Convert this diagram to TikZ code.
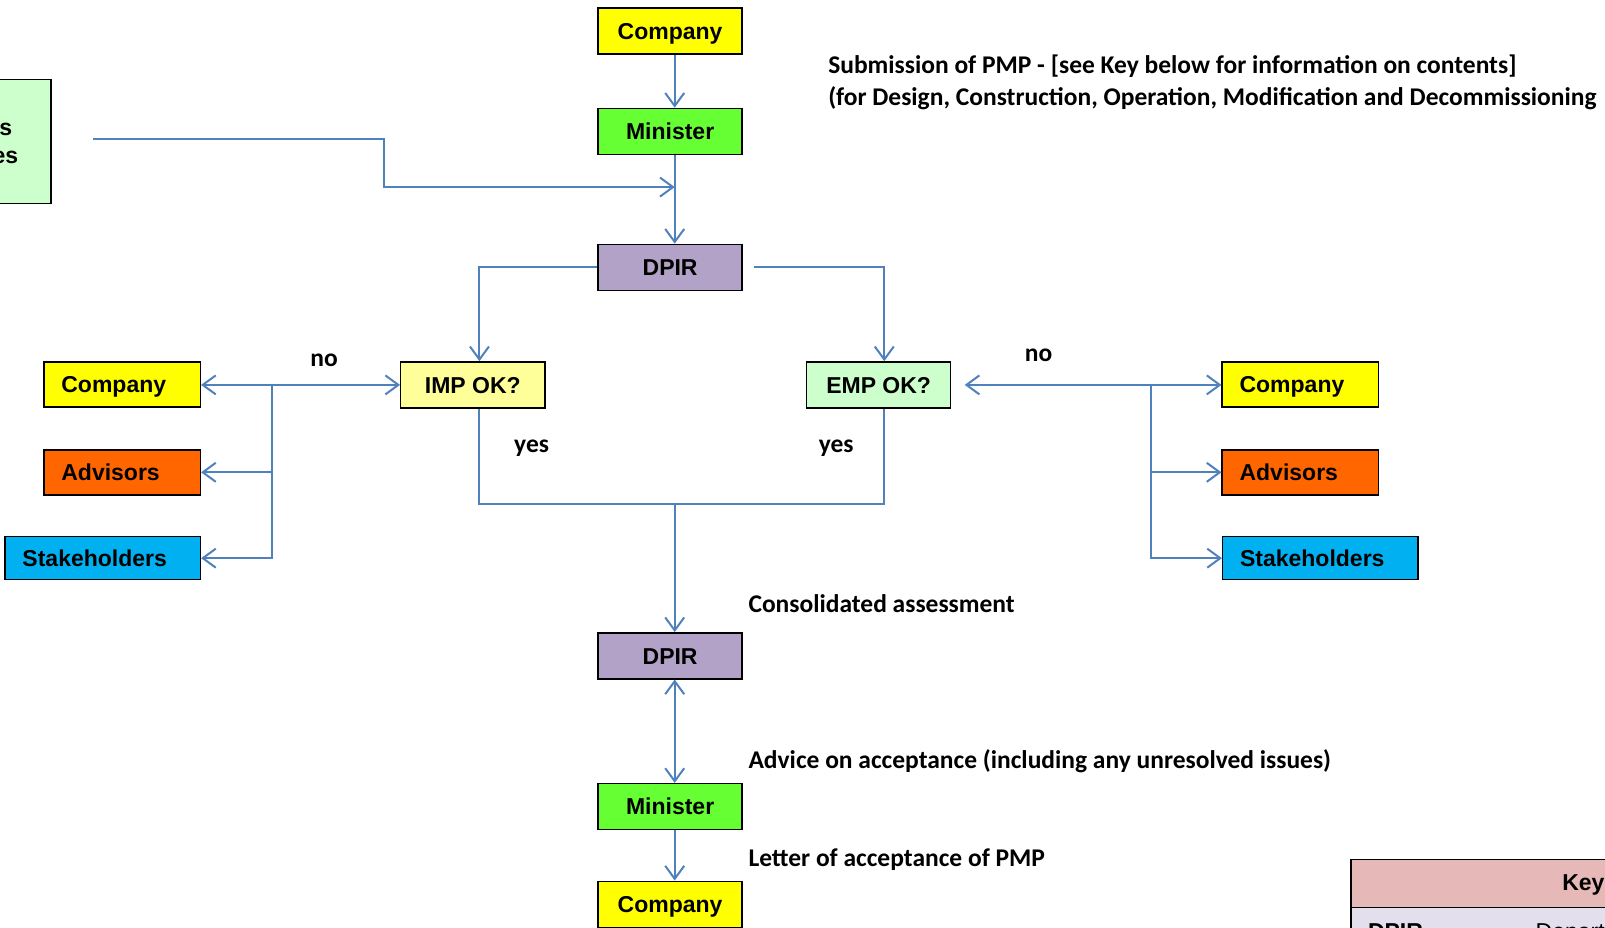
\documentclass[tikz,border=0pt]{standalone}
\usepackage{fontspec}
\setmainfont{Liberation Sans}
\newfontfamily\calibri{Carlito}
\usetikzlibrary{arrows.meta,calc}
\definecolor{lineblue}{RGB}{79,129,189}
\definecolor{cyellow}{RGB}{255,255,0}
\definecolor{cgreen}{RGB}{102,255,51}
\definecolor{cpurple}{RGB}{179,162,199}
\definecolor{clyellow}{RGB}{255,255,153}
\definecolor{clgreen}{RGB}{204,255,204}
\definecolor{corange}{RGB}{255,102,0}
\definecolor{ccyan}{RGB}{0,176,240}
\definecolor{keypink}{RGB}{230,185,184}
\definecolor{keylav}{RGB}{228,223,236}
\tikzset{
  box/.style={draw=black, line width=1.4pt, minimum width=144.1pt, minimum height=46pt, inner sep=0pt,
    text height=16.5pt, text depth=0pt, font=\fontsize{23}{27}\selectfont\bfseries},
  sidebox/.style={draw=black, line width=1.4pt, minimum height=45pt, inner xsep=17.4pt, inner ysep=0pt,
    text height=16.5pt, text depth=0pt,
    text width=121.6pt, align=left, font=\fontsize{23}{27}\selectfont\bfseries},
  widebox/.style={sidebox, text width=160.5pt, minimum height=43pt},
  lbl/.style={font=\calibri\fontsize{25.5}{31}\selectfont\bfseries, inner sep=0pt},
  line/.style={draw=lineblue, line width=2pt},
  conn/.style={line, -{Straight Barb[length=13pt,width=19pt,line width=2pt]}},
  conntwo/.style={line, {Straight Barb[length=13pt,width=19pt,line width=2pt]}-{Straight Barb[length=13pt,width=19pt,line width=2pt]}}
}
\begin{document}
\begin{tikzpicture}[x=1.0223pt,y=-1.0223pt]
\useasboundingbox (0,0) rectangle (1570,906.8);
% spine coordinates
\coordinate (sp) at (660,0);
\coordinate (ix) at (469,0);
\coordinate (ex) at (865,0);

% left partial green box
\node (gbox) [draw=black, line width=1.4pt, fill=clgreen, minimum width=153.3pt, minimum height=123.7pt] at (-25,138.5) {};
\node (gt1) [anchor=east, font=\fontsize{23}{27}\selectfont\bfseries, inner sep=0pt] at (12,127) {s};
\node (gt2) [anchor=east, font=\fontsize{23}{27}\selectfont\bfseries, inner sep=0pt] at (18,154) {es};

% main column
\node (comp1) [box, fill=cyellow] at (655.5,30.5) {Company};
\node (min1) [box, fill=cgreen] at (655.5,128.5) {Minister};
\node (dpir1) [box, fill=cpurple] at (655.5,261.5) {DPIR};
\node (imp) [box, fill=clyellow] at (462.5,376.5) {IMP OK?};
\node (emp) [box, fill=clgreen] at (859.5,376.5) {EMP OK?};
\node (dpir2) [box, fill=cpurple] at (655.5,641.5) {DPIR};
\node (min2) [box, fill=cgreen] at (655.5,789) {Minister};
\node (comp3) [box, fill=cyellow] at (655.5,884.5) {Company};

% side boxes
\node (compL) [sidebox, fill=cyellow] at (119.5,376) {Company};
\node (advL) [sidebox, fill=corange] at (119.5,462) {Advisors};
\node (stakL) [widebox, fill=ccyan] at (100.5,546) {Stakeholders};
\node (compR) [sidebox, fill=cyellow] at (1272,376) {Company};
\node (advR) [sidebox, fill=corange] at (1272,462) {Advisors};
\node (stakR) [widebox, fill=ccyan] at (1291.5,546) {Stakeholders};

% key table
\node (keyhead) [draw=black, line width=1.4pt, fill=keypink, anchor=north west, minimum width=400pt, minimum height=48pt, inner sep=0pt] at (1321,840) {};
\node (keyrow) [draw=black, line width=1.4pt, fill=keylav, anchor=north west, minimum width=400pt, minimum height=60pt, inner sep=0pt] at (1321,887) {};
\node (keyt) [anchor=base west, inner sep=0pt, font=\fontsize{23}{27}\selectfont\bfseries] at (1528,871) {Key};
\node (keyd) [anchor=base west, inner sep=0pt, font=\fontsize{23}{27}\selectfont\bfseries] at (1338,919) {DPIR};
\node (keydd) [anchor=base west, inner sep=0pt, font=\fontsize{23}{27}\selectfont] at (1502,919) {Department};

% labels
\node (sub1) [lbl, anchor=west] at (810,65) {Submission of PMP - [see Key below for information on contents]};
\node (sub2) [lbl, anchor=west] at (810,96) {(for Design, Construction, Operation, Modification and Decommissioning};
\node (nol) [lbl] at (317,352) {no};
\node (nor) [lbl] at (1016,348) {no};
\node (yesl) [lbl] at (520,438) {yes};
\node (yesr) [lbl] at (818,438) {yes};
\node (cons) [lbl, anchor=west] at (732,590) {Consolidated assessment};
\node (adv) [lbl, anchor=west] at (732,745) {Advice on acceptance (including any unresolved issues)};
\node (let) [lbl, anchor=west] at (732,841) {Letter of acceptance of PMP};

% connectors
\draw[conn] (comp1.south -| sp) -- (min1.north -| sp);
\draw[conn] (min1.south -| sp) -- (dpir1.north -| sp);
\coordinate (gstart) at (91,136);
\coordinate (gend) at (660,183);
\draw[conn] (gstart) -- (376,136) -- (376,183) -- (gend);
\draw[conn] (dpir1.west) -| (imp.north -| ix);
\draw[conn] ([xshift=11.2pt]dpir1.east) -| (emp.north -| ex);

\coordinate (jl) at (266,376.5);
\draw[conn] (jl) -- (imp.west);
\draw[conn] (jl) -- (compL.east |- jl);
\draw[conn] (jl) |- (advL.east);
\draw[conn] (jl) |- (stakL.east);

\coordinate (jr) at (1126,376.5);
\draw[conn] (jr) -- ([xshift=13.3pt]emp.east);
\draw[conn] (jr) -- (compR.west |- jr);
\draw[conn] (jr) |- (advR.west);
\draw[conn] (jr) |- (stakR.west);

\coordinate (m) at (660,493);
\draw[line] (imp.south -| ix) |- (m) -| (emp.south -| ex);
\draw[conn] (m) -- (dpir2.north -| sp);
\draw[conntwo] (dpir2.south -| sp) -- (min2.north -| sp);
\draw[conn] (min2.south -| sp) -- (comp3.north -| sp);
\end{tikzpicture}
\end{document}
